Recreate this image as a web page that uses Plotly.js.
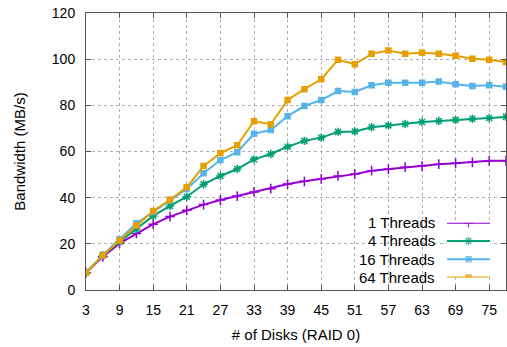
<!DOCTYPE html>
<html>
<head>
<meta charset="utf-8">
<script src="https://cdn.plot.ly/plotly-3.0.1.min.js"></script>
<style>html,body{margin:0;padding:0;background:#fff;}#chart{width:507px;height:347px;}</style>
</head>
<body>
<div id="chart"></div>
<script>
const disks = [3,6,9,12,15,18,21,24,27,30,33,36,39,42,45,48,51,54,57,60,63,66,69,72,75,78];
const threads1 = [7.5,14.4,20.2,24.5,28.5,31.8,34.5,37.0,39.0,40.7,42.5,43.9,45.9,47.1,48.1,49.4,50.2,51.7,52.4,53.2,53.7,54.5,54.9,55.3,56.0,56.0];
const threads4 = [7.5,15.0,20.9,26.4,32.1,36.4,40.4,45.8,49.4,52.4,56.6,58.9,62.1,64.6,66.0,68.5,68.7,70.5,71.3,71.9,72.8,73.2,73.7,74.2,74.5,75.0];
const threads16 = [7.5,15.2,22.0,28.9,33.8,39.0,43.8,50.6,56.3,59.7,67.7,69.3,75.3,79.7,82.3,86.2,85.8,88.7,89.8,89.8,89.8,90.3,89.1,88.4,88.7,88.1];
const threads64 = [7.5,15.0,21.4,27.9,34.2,39.1,44.5,53.7,59.3,62.7,73.1,71.8,82.3,87.0,91.3,99.7,97.8,102.3,103.8,102.4,102.8,102.3,101.5,100.2,99.7,98.8];
const seriesNames = ["1 Threads","4 Threads","16 Threads","64 Threads"];
const seriesColors = ["#9400d3","#009e73","#56b4e9","#e69f00"];
const seriesSymbols = ["cross-thin-open","asterisk-open","square","square"];
const seriesData = [threads1, threads4, threads16, threads64];
const xTicks = [3,9,15,21,27,33,39,45,51,57,63,69,75];
const yTicks = [0,20,40,60,80,100,120];

const FONT = "Liberation Sans, Arial, Helvetica, sans-serif";
const markerSize = i => (i < 2 ? 7 : 5);

const traces = seriesData.map((ys, i) => ({
  x: disks, y: ys, type: "scatter", mode: "lines+markers",
  name: seriesNames[i], showlegend: false,
  line: {color: seriesColors[i], width: 2},
  marker: {color: seriesColors[i], symbol: seriesSymbols[i], size: markerSize(i),
           line: {color: seriesColors[i], width: 1.5}}
}));

// key (gnuplot style: label on the left, sample on the right)
const nS = seriesNames.length;
const keyTop = 0.243, keyStep = 0.066;
const keyTextX = 0.8357;
seriesNames.forEach((nm, i) => {
  traces.push({
    x: [0, 0.5, 1], y: [nS - 1 - i, nS - 1 - i, nS - 1 - i],
    xaxis: "x2", yaxis: "y2", type: "scatter", mode: "lines+markers",
    showlegend: false, hoverinfo: "skip",
    line: {color: seriesColors[i], width: 2},
    marker: {color: seriesColors[i], symbol: seriesSymbols[i],
             size: [0, markerSize(i), 0], line: {color: seriesColors[i], width: 1.5}}
  });
});
const annotations = seriesNames.map((nm, i) => ({
  text: nm, xref: "paper", yref: "paper", x: keyTextX, y: keyTop - i * keyStep,
  xanchor: "right", yanchor: "middle", showarrow: false,
  font: {size: 15, family: FONT, color: "#000"}
}));

const layout = {
  width: 507, height: 347,
  margin: {l: 86, r: 1, t: 13, b: 57},
  paper_bgcolor: "#fff", plot_bgcolor: "#fff",
  font: {family: FONT, size: 14, color: "#000"},
  showlegend: false,
  annotations: annotations,
  shapes: [{type: "rect", xref: "x", yref: "y", x0: 48.6, x1: 78, y0: 0, y1: 33.4,
            fillcolor: "#fff", line: {width: 0}, layer: "below"}],
  xaxis: {
    range: [3, 78], tickmode: "array", tickvals: xTicks, ticktext: xTicks.map(String),
    showgrid: true, gridcolor: "#b0b0b0", griddash: "dot", gridwidth: 1,
    zeroline: false, showline: true, linecolor: "#555", linewidth: 1, mirror: "ticks",
    ticks: "inside", ticklen: 5, tickcolor: "#555", ticklabelstandoff: 7,
    tickfont: {size: 14, family: FONT},
    title: {text: "# of Disks (RAID 0)", font: {size: 15, family: FONT}, standoff: 12},
    automargin: false
  },
  yaxis: {
    range: [0, 120], tickmode: "array", tickvals: yTicks, ticktext: yTicks.map(String),
    showgrid: true, gridcolor: "#b0b0b0", griddash: "dot", gridwidth: 1,
    zeroline: false, showline: true, linecolor: "#555", linewidth: 1, mirror: "ticks",
    ticks: "inside", ticklen: 5, tickcolor: "#555", ticklabelstandoff: 7,
    tickfont: {size: 14, family: FONT},
    title: {text: "Bandwidth (MB/s)", font: {size: 15, family: FONT}, standoff: 22},
    automargin: false
  },
  xaxis2: {domain: [0.8595, 0.9619], range: [0, 1], visible: false, anchor: "y2", fixedrange: true},
  yaxis2: {domain: [keyTop - (nS - 1) * keyStep, keyTop], range: [0, nS - 1], visible: false, anchor: "x2", fixedrange: true}
};
Plotly.newPlot("chart", traces, layout, {displayModeBar: false, staticPlot: true});
</script>
</body>
</html>
